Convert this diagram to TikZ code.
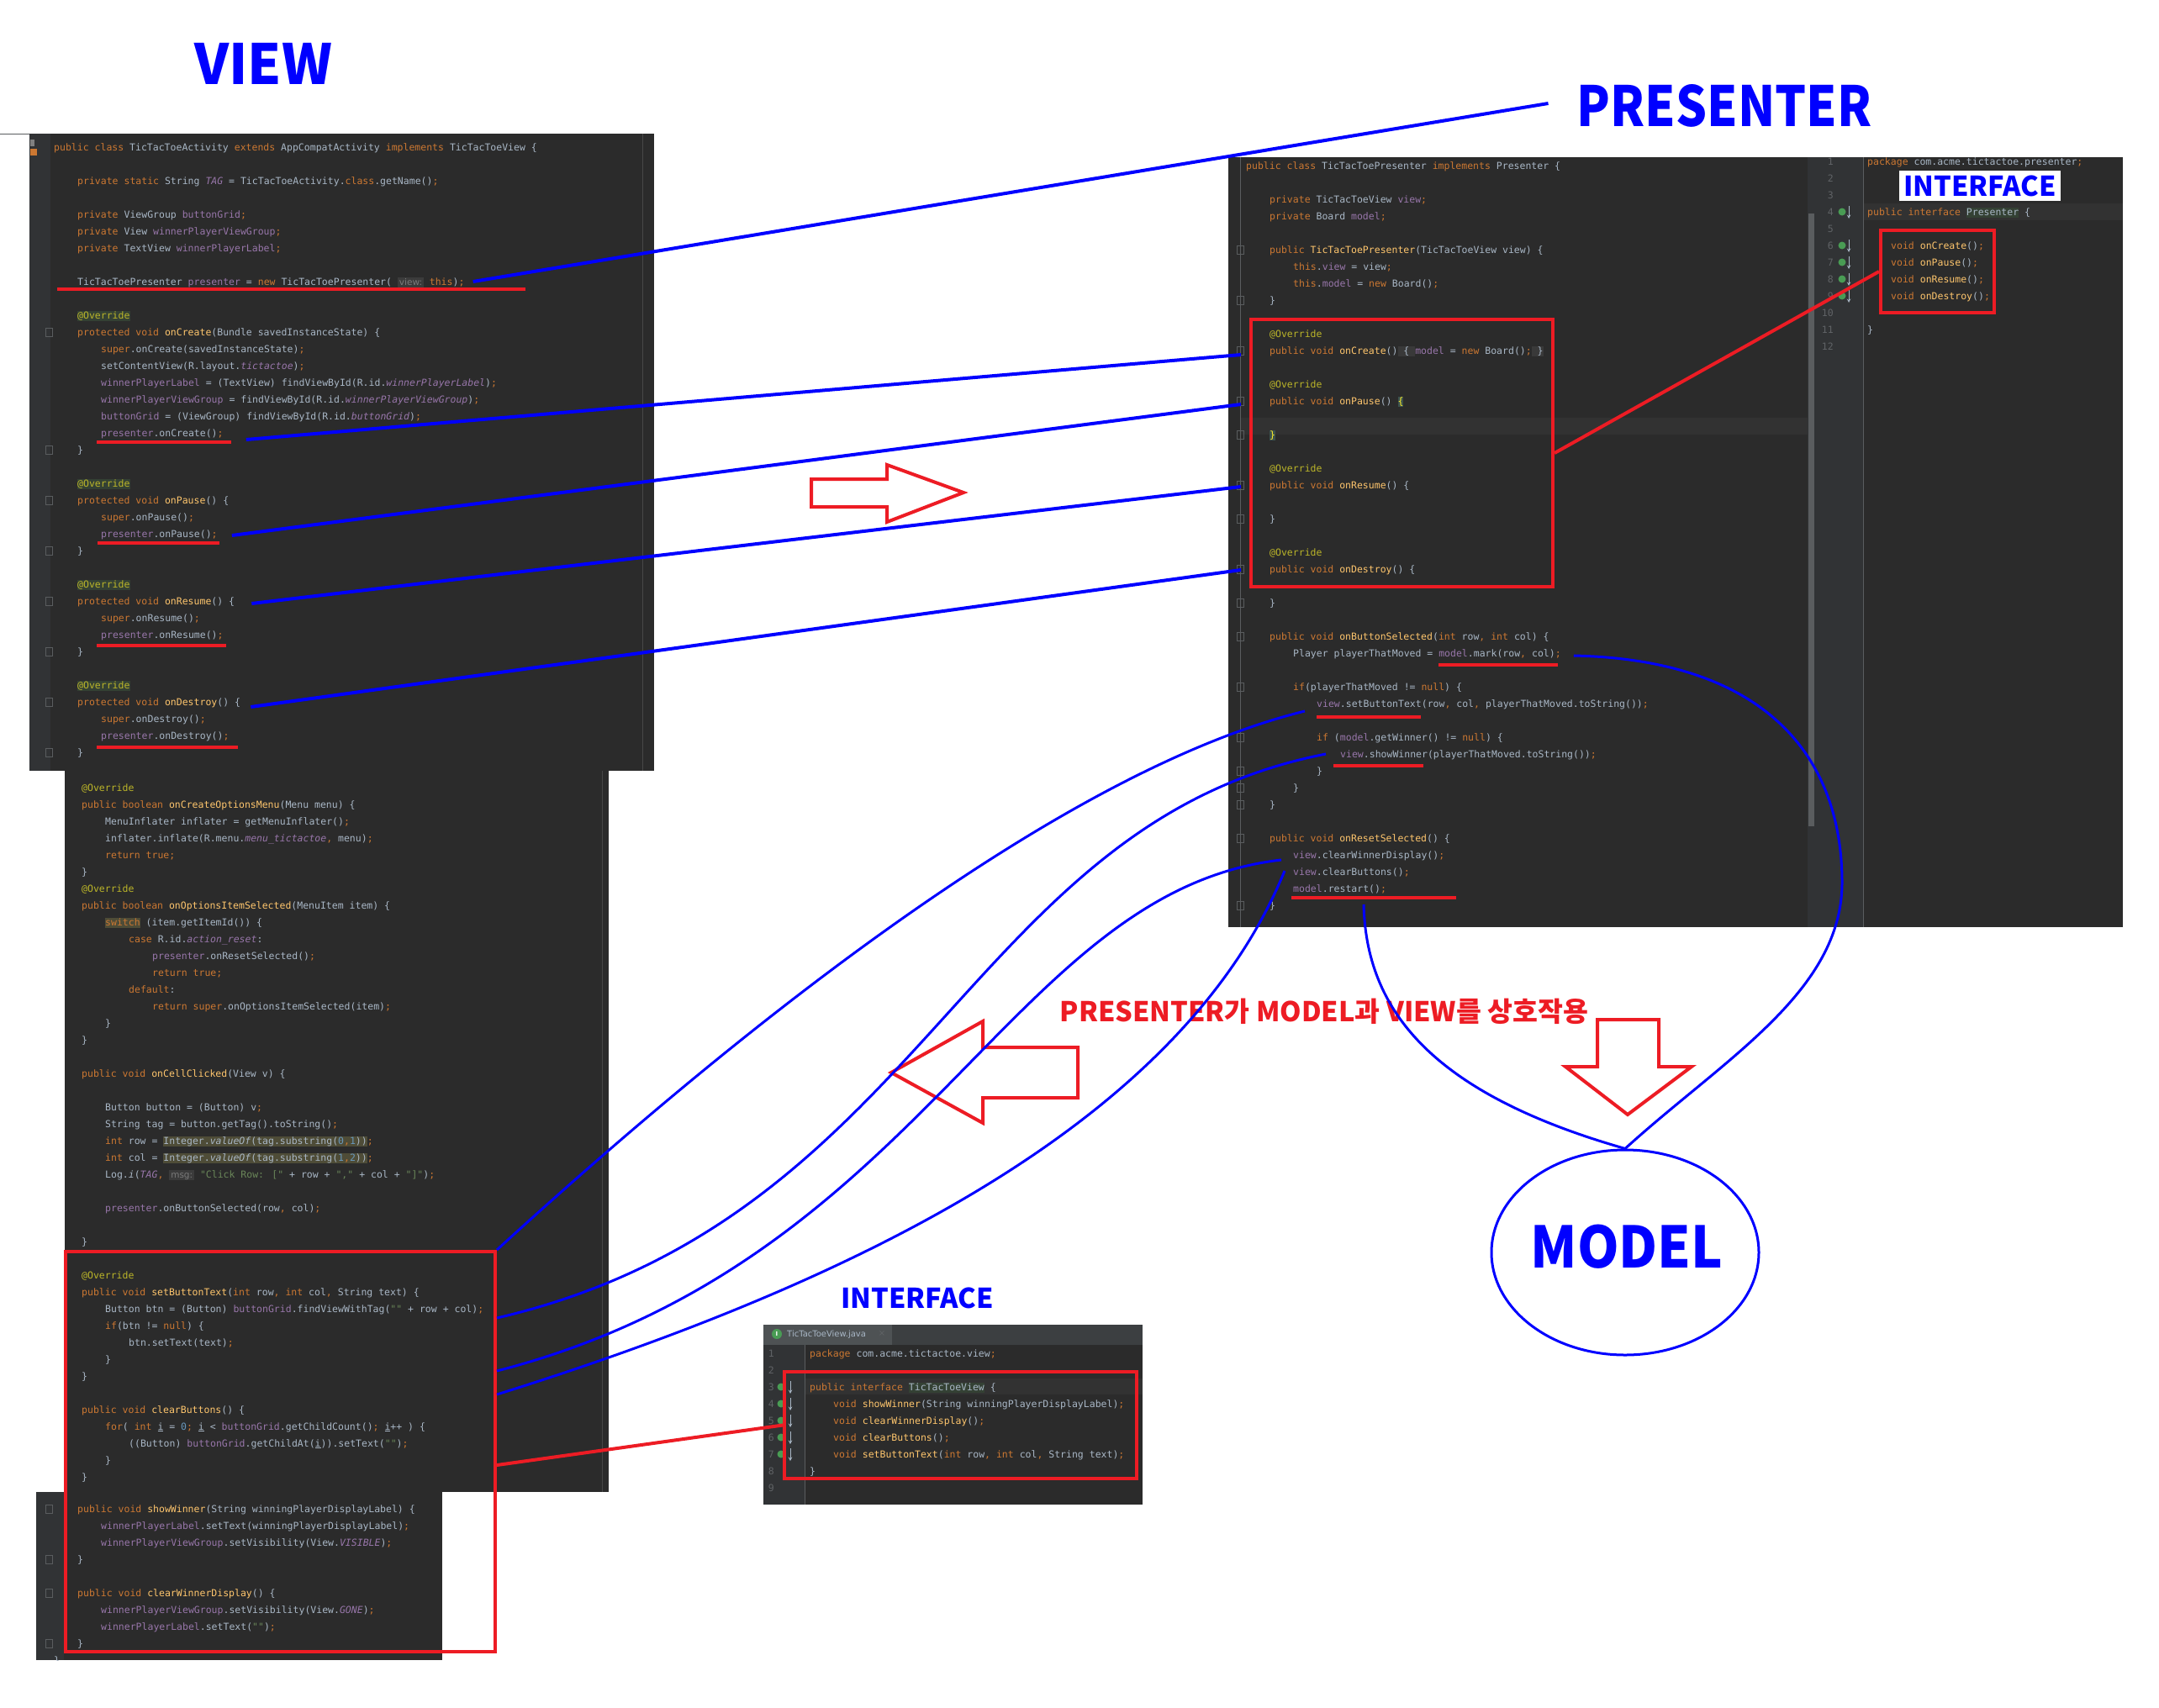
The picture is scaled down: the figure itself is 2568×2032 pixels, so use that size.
\documentclass[tikz,border=0pt]{standalone}
\usepackage{fontspec}
\usepackage{graphicx}
\usetikzlibrary{shapes.geometric}
\newfontfamily\codefont{DejaVu Sans Mono}
\newfontfamily\uifont{DejaVu Sans}
\newfontfamily\krfont{Noto Sans CJK KR}
\definecolor{IdeBg}{HTML}{2B2B2B}
\definecolor{IdeGutter}{HTML}{313335}
\definecolor{IdeText}{HTML}{A9B7C6}
\definecolor{IdeKey}{HTML}{CC7832}
\definecolor{IdeField}{HTML}{9876AA}
\definecolor{IdeMethod}{HTML}{FFC66D}
\definecolor{IdeAnno}{HTML}{BBB529}
\definecolor{IdeStr}{HTML}{6A8759}
\definecolor{IdeNum}{HTML}{6897BB}
\definecolor{IdeLineNo}{HTML}{606366}
\definecolor{IdeHint}{HTML}{7A7A7A}
\definecolor{IdeHintBg}{HTML}{3B3B3B}
\definecolor{IdeFoldBg}{HTML}{393939}
\definecolor{IdeCurLine}{HTML}{323232}
\definecolor{IdeAnnoBg}{HTML}{344134}
\definecolor{IdeUseBg}{HTML}{4E4C37}
\definecolor{IdeBraceBg}{HTML}{3B514D}
\definecolor{IdeBrace}{HTML}{FFEF28}
\definecolor{IdeFold}{HTML}{5A5D5F}
\definecolor{IdeMargin}{HTML}{474747}
\definecolor{IdeIcon}{HTML}{499C54}
\definecolor{IdeTabBar}{HTML}{3C3F41}
\definecolor{IdeTab}{HTML}{4E5254}
\definecolor{MarkRed}{RGB}{237,28,36}
\definecolor{MarkBlue}{RGB}{0,0,255}
\newcommand{\kw}[1]{\textcolor{IdeKey}{#1}}
\newcommand{\fld}[1]{\textcolor{IdeField}{#1}}
\newcommand{\fldi}[1]{\textcolor{IdeField}{\itshape #1}}
\newcommand{\mth}[1]{\textcolor{IdeMethod}{#1}}
\newcommand{\ann}[1]{\textcolor{IdeAnno}{#1}}
\newcommand{\jstr}[1]{\textcolor{IdeStr}{#1}}
\newcommand{\jnum}[1]{\textcolor{IdeNum}{#1}}
\newcommand{\semi}{\kw{;}}
\newcommand{\cma}{\kw{,}}
\newcommand{\dq}{\symbol{34}}
\newcommand{\bgbox}[2]{{\setlength{\fboxsep}{0pt}\colorbox{#1}{\rule[-3pt]{0pt}{12.5pt}#2}}}
\newcommand{\hint}[1]{\bgbox{IdeHintBg}{\,\textcolor{IdeHint}{\uifont\fontsize{10.5}{12}\selectfont #1}\,}}
\newcommand{\annbox}{\bgbox{IdeAnnoBg}{\ann{@Override}}}

\begin{document}
\begin{tikzpicture}[x=1pt,y=-1pt,>=stealth,
    code/.style={anchor=base west,inner sep=0pt,text=IdeText,font=\codefont\fontsize{11.5}{13}\selectfont},
    lineno/.style={anchor=base east,inner sep=0pt,text=IdeLineNo,font=\codefont\fontsize{11.5}{13}\selectfont},
    bigtitle/.style={inner sep=0pt,text=MarkBlue,font=\krfont\bfseries\fontsize{66}{70}\selectfont},
    smalltitle/.style={inner sep=0pt,text=MarkBlue,font=\krfont\bfseries\fontsize{32.5}{36}\selectfont},
    redbox/.style={draw=MarkRed,line width=4pt,inner sep=0pt},
    redmark/.style={draw=MarkRed,line width=4pt},
    bluelink/.style={draw=MarkBlue,line width=4pt},
    bluecurve/.style={draw=MarkBlue,line width=3pt},
    hollow/.style={draw=MarkRed,line width=4pt,line join=miter},
    foldmark/.style={draw=IdeFold,line width=1pt}]

  % page
  \fill[white] (0,0) rectangle (2568,2032);
  \useasboundingbox (0,0) rectangle (2568,2032);

  % editor panels
  \draw[IdeFold,line width=1pt] (0,159) -- (36,159);
  \fill[IdeBg] (35,159) rectangle (778,917);
  \fill[IdeGutter] (35,159) rectangle (60,917);
  \draw[IdeMargin,line width=1pt] (764,159) -- (764,917);
  \fill[IdeBg] (77,917) rectangle (724,1775);
  \draw[IdeMargin,line width=1pt] (716,917) -- (716,1775);
  \fill[IdeBg] (43,1775) rectangle (526,1975);
  \fill[IdeGutter] (43,1775) rectangle (76,1975);
  \fill[gray] (36,166) rectangle (41,174);
  \fill[IdeKey] (36,177) rectangle (44,185);

  \fill[IdeBg] (1461,187) rectangle (2525,1103);
  \draw[IdeFold,line width=1pt] (1475,187) -- (1475,1103);
  \fill[IdeCurLine] (1476,497) rectangle (2150,517);
  \fill[IdeGutter] (2150,187) rectangle (2216,1103);
  \fill[IdeFold] (2151,254) rectangle (2158,983);
  \draw[IdeFold,line width=1pt] (2216,187) -- (2216,1103);
  \fill[IdeCurLine] (2217,242) rectangle (2525,262);

  \fill[IdeBg] (908,1576) rectangle (1359,1790);
  \fill[IdeTabBar] (908,1576) rectangle (1359,1600);
  \fill[IdeTab] (908,1576) rectangle (1061,1600);
  \fill[IdeGutter] (908,1600) rectangle (957,1790);
  \draw[IdeFold,line width=1pt] (957,1600) -- (957,1790);
  \fill[IdeCurLine] (958,1640) rectangle (1359,1659);

  % fold markers
  \foreach \i in {11,18,21,24,27,30,33,36}
    \draw[foldmark] (54,175+20*\i-5) rectangle (62,175+20*\i+5);
  \foreach \i in {5,8,11,14,16,19,21,24,26,28,31,34,36,37,38,40,44}
    \draw[foldmark] (1471,197+20*\i-5) rectangle (1479,197+20*\i+5);
  \foreach \i in {0,3,5,8}
    \draw[foldmark] (54,1795+20*\i-5) rectangle (62,1795+20*\i+5);

  % VIEW code (top)
  \node[code] (v0) at (64,179) {\kw{public class} TicTacToeActivity \kw{extends} AppCompatActivity \kw{implements} TicTacToeView \{};
  \node[code] (v2) at (92,219) {\kw{private static} String \fldi{TAG} = TicTacToeActivity.\kw{class}.getName()\semi};
  \node[code] (v4) at (92,259) {\kw{private} ViewGroup \fld{buttonGrid}\semi};
  \node[code] (v5) at (92,279) {\kw{private} View \fld{winnerPlayerViewGroup}\semi};
  \node[code] (v6) at (92,299) {\kw{private} TextView \fld{winnerPlayerLabel}\semi};
  \node[code] (vpres) at (92,339) {TicTacToePresenter \fld{presenter} = \kw{new} TicTacToePresenter( \hint{view:} \kw{this})\semi};
  \node[code] (v10) at (92,379) {\annbox};
  \node[code] (vcreate) at (92,399) {\kw{protected void} \mth{onCreate}(Bundle savedInstanceState) \{};
  \node[code] (v12) at (120,419) {\kw{super}.onCreate(savedInstanceState)\semi};
  \node[code] (v13) at (120,439) {setContentView(R.layout.\fldi{tictactoe})\semi};
  \node[code] (v14) at (120,459) {\fld{winnerPlayerLabel} = (TextView) findViewById(R.id.\fldi{winnerPlayerLabel})\semi};
  \node[code] (v15) at (120,479) {\fld{winnerPlayerViewGroup} = findViewById(R.id.\fldi{winnerPlayerViewGroup})\semi};
  \node[code] (v16) at (120,499) {\fld{buttonGrid} = (ViewGroup) findViewById(R.id.\fldi{buttonGrid})\semi};
  \node[code] (vcreatecall) at (120,519) {\fld{presenter}.onCreate()\semi};
  \node[code] (v18) at (92,539) {\}};
  \node[code] (v20) at (92,579) {\annbox};
  \node[code] (vpause) at (92,599) {\kw{protected void} \mth{onPause}() \{};
  \node[code] (v22) at (120,619) {\kw{super}.onPause()\semi};
  \node[code] (vpausecall) at (120,639) {\fld{presenter}.onPause()\semi};
  \node[code] (v24) at (92,659) {\}};
  \node[code] (v26) at (92,699) {\annbox};
  \node[code] (vresume) at (92,719) {\kw{protected void} \mth{onResume}() \{};
  \node[code] (v28) at (120,739) {\kw{super}.onResume()\semi};
  \node[code] (vresumecall) at (120,759) {\fld{presenter}.onResume()\semi};
  \node[code] (v30) at (92,779) {\}};
  \node[code] (v32) at (92,819) {\annbox};
  \node[code] (vdestroy) at (92,839) {\kw{protected void} \mth{onDestroy}() \{};
  \node[code] (v34) at (120,859) {\kw{super}.onDestroy()\semi};
  \node[code] (vdestroycall) at (120,879) {\fld{presenter}.onDestroy()\semi};
  \node[code] (v36) at (92,899) {\}};

  % VIEW code (middle)
  \node[code] (w0) at (97,941) {\ann{@Override}};
  \node[code] (w1) at (97,961) {\kw{public boolean} \mth{onCreateOptionsMenu}(Menu menu) \{};
  \node[code] (w2) at (125,981) {MenuInflater inflater = getMenuInflater()\semi};
  \node[code] (w3) at (125,1001) {inflater.inflate(R.menu.\fldi{menu\_tictactoe}\cma{} menu)\semi};
  \node[code] (w4) at (125,1021) {\kw{return true;}};
  \node[code] (w5) at (97,1041) {\}};
  \node[code] (w6) at (97,1061) {\ann{@Override}};
  \node[code] (w7) at (97,1081) {\kw{public boolean} \mth{onOptionsItemSelected}(MenuItem item) \{};
  \node[code] (w8) at (125,1101) {\bgbox{IdeUseBg}{\kw{switch}} (item.getItemId()) \{};
  \node[code] (w9) at (153,1121) {\kw{case} R.id.\fldi{action\_reset}:};
  \node[code] (wreset) at (181,1141) {\fld{presenter}.onResetSelected()\semi};
  \node[code] (w11) at (181,1161) {\kw{return true;}};
  \node[code] (w12) at (153,1181) {\kw{default}:};
  \node[code] (w13) at (181,1201) {\kw{return super}.onOptionsItemSelected(item)\semi};
  \node[code] (w14) at (125,1221) {\}};
  \node[code] (w15) at (97,1241) {\}};
  \node[code] (w17) at (97,1281) {\kw{public void} \mth{onCellClicked}(View v) \{};
  \node[code] (w19) at (125,1321) {Button button = (Button) v\semi};
  \node[code] (w20) at (125,1341) {String tag = button.getTag().toString()\semi};
  \node[code] (w21) at (125,1361) {\kw{int} row = \bgbox{IdeUseBg}{Integer.\textit{valueOf}(tag.substring(\jnum{0}\cma\jnum{1}))}\semi};
  \node[code] (w22) at (125,1381) {\kw{int} col = \bgbox{IdeUseBg}{Integer.\textit{valueOf}(tag.substring(\jnum{1}\cma\jnum{2}))}\semi};
  \node[code] (w23) at (125,1401) {Log.\textit{i}(\fldi{TAG}\cma{} \hint{msg:} \jstr{\dq Click Row: [\dq} + row + \jstr{\dq,\dq} + col + \jstr{\dq]\dq})\semi};
  \node[code] (wbutton) at (125,1441) {\fld{presenter}.onButtonSelected(row\cma{} col)\semi};
  \node[code] (w27) at (97,1481) {\}};
  \node[code] (w29) at (97,1521) {\ann{@Override}};
  \node[code] (wset) at (97,1541) {\kw{public void} \mth{setButtonText}(\kw{int} row\cma{} \kw{int} col\cma{} String text) \{};
  \node[code] (w31) at (125,1561) {Button btn = (Button) \fld{buttonGrid}.findViewWithTag(\jstr{\dq\dq} + row + col)\semi};
  \node[code] (w32) at (125,1581) {\kw{if}(btn != \kw{null}) \{};
  \node[code] (w33) at (153,1601) {btn.setText(text)\semi};
  \node[code] (w34) at (125,1621) {\}};
  \node[code] (w35) at (97,1641) {\}};
  \node[code] (wclear) at (97,1681) {\kw{public void} \mth{clearButtons}() \{};
  \node[code] (w38) at (125,1701) {\kw{for}( \kw{int} \underline{i} = \jnum{0}\semi{} \underline{i} < \fld{buttonGrid}.getChildCount()\semi{} \underline{i}++ ) \{};
  \node[code] (w39) at (153,1721) {((Button) \fld{buttonGrid}.getChildAt(\underline{i})).setText(\jstr{\dq\dq})\semi};
  \node[code] (w40) at (125,1741) {\}};
  \node[code] (w41) at (97,1761) {\}};

  % VIEW code (bottom)
  \begin{scope}
    \clip (43,1775) rectangle (526,1975);
    \node[code] (xshow) at (92,1799) {\kw{public void} \mth{showWinner}(String winningPlayerDisplayLabel) \{};
    \node[code] (x1) at (120,1819) {\fld{winnerPlayerLabel}.setText(winningPlayerDisplayLabel)\semi};
    \node[code] (x2) at (120,1839) {\fld{winnerPlayerViewGroup}.setVisibility(View.\fldi{VISIBLE})\semi};
    \node[code] (x3) at (92,1859) {\}};
    \node[code] (xclear) at (92,1899) {\kw{public void} \mth{clearWinnerDisplay}() \{};
    \node[code] (x6) at (120,1919) {\fld{winnerPlayerViewGroup}.setVisibility(View.\fldi{GONE})\semi};
    \node[code] (x7) at (120,1939) {\fld{winnerPlayerLabel}.setText(\jstr{\dq\dq})\semi};
    \node[code] (x8) at (92,1959) {\}};
    \node[code] (x9) at (64,1979) {\}};
  \end{scope}

  % PRESENTER code
  \node[code] (p0) at (1482,201) {\kw{public class} TicTacToePresenter \kw{implements} Presenter \{};
  \node[code] (p2) at (1510,241) {\kw{private} TicTacToeView \fld{view}\semi};
  \node[code] (p3) at (1510,261) {\kw{private} Board \fld{model}\semi};
  \node[code] (p5) at (1510,301) {\kw{public} \mth{TicTacToePresenter}(TicTacToeView view) \{};
  \node[code] (p6) at (1538,321) {\kw{this}.\fld{view} = view\semi};
  \node[code] (p7) at (1538,341) {\kw{this}.\fld{model} = \kw{new} Board()\semi};
  \node[code] (p8) at (1510,361) {\}};
  \node[code] (p10) at (1510,401) {\ann{@Override}};
  \node[code] (pcreate) at (1510,421) {\kw{public void} \mth{onCreate}()\bgbox{IdeFoldBg}{\ \{\ }\fld{model} = \kw{new} Board()\semi\bgbox{IdeFoldBg}{\ \}}};
  \node[code] (p13) at (1510,461) {\ann{@Override}};
  \node[code] (ppause) at (1510,481) {\kw{public void} \mth{onPause}() \bgbox{IdeBraceBg}{\textcolor{IdeBrace}{\{}}};
  \node[code] (p16) at (1510,521) {\bgbox{IdeBraceBg}{\textcolor{IdeBrace}{\}}}};
  \node[code] (p18) at (1510,561) {\ann{@Override}};
  \node[code] (presume) at (1510,581) {\kw{public void} \mth{onResume}() \{};
  \node[code] (p21) at (1510,621) {\}};
  \node[code] (p23) at (1510,661) {\ann{@Override}};
  \node[code] (pdestroy) at (1510,681) {\kw{public void} \mth{onDestroy}() \{};
  \node[code] (p26) at (1510,721) {\}};
  \node[code] (p28) at (1510,761) {\kw{public void} \mth{onButtonSelected}(\kw{int} row\cma{} \kw{int} col) \{};
  \node[code] (pmark) at (1538,781) {Player playerThatMoved = \fld{model}.mark(row\cma{} col)\semi};
  \node[code] (p31) at (1538,821) {\kw{if}(playerThatMoved != \kw{null}) \{};
  \node[code] (pset) at (1566,841) {\fld{view}.setButtonText(row\cma{} col\cma{} playerThatMoved.toString())\semi};
  \node[code] (p34) at (1566,881) {\kw{if} (\fld{model}.getWinner() != \kw{null}) \{};
  \node[code] (pshow) at (1594,901) {\fld{view}.showWinner(playerThatMoved.toString())\semi};
  \node[code] (p36) at (1566,921) {\}};
  \node[code] (p37) at (1538,941) {\}};
  \node[code] (p38) at (1510,961) {\}};
  \node[code] (p40) at (1510,1001) {\kw{public void} \mth{onResetSelected}() \{};
  \node[code] (pclearwin) at (1538,1021) {\fld{view}.clearWinnerDisplay()\semi};
  \node[code] (pclearbtn) at (1538,1041) {\fld{view}.clearButtons()\semi};
  \node[code] (prestart) at (1538,1061) {\fld{model}.restart()\semi};
  \node[code] (p44) at (1510,1081) {\}};

  % Presenter interface
  \foreach \k in {1,...,12}
    \node[lineno] (pin\k) at (2181,176+20*\k) {\k};
  \foreach \k in {4,6,7,8,9} {
    \fill[IdeIcon] (2191,172+20*\k) circle (4.5);
    \draw[IdeText,line width=1pt,->] (2199,165+20*\k) -- (2199,180+20*\k);
  }
  \node[code] (i1) at (2221,196) {\kw{package} com.acme.tictactoe.presenter\semi};
  \node[code] (i4) at (2221,256) {\kw{public interface} \bgbox{IdeAnnoBg}{Presenter} \{};
  \node[code] (i6) at (2249,296) {\kw{void} \mth{onCreate}()\semi};
  \node[code] (i7) at (2249,316) {\kw{void} \mth{onPause}()\semi};
  \node[code] (i8) at (2249,336) {\kw{void} \mth{onResume}()\semi};
  \node[code] (i9) at (2249,356) {\kw{void} \mth{onDestroy}()\semi};
  \node[code] (i11) at (2221,396) {\}};

  % View interface
  \fill[IdeIcon] (924,1587) circle (6);
  \node[inner sep=0pt,text=white,font=\uifont\bfseries\fontsize{7}{8}\selectfont] (tabicon) at (924,1587) {I};
  \node[anchor=west,inner sep=0pt,text=IdeText,font=\uifont\fontsize{10}{12}\selectfont] (tab) at (936,1588) {TicTacToeView.java};
  \node[inner sep=0pt,text=IdeLineNo,font=\uifont\fontsize{10}{12}\selectfont] (tabclose) at (1049,1586) {×};
  \foreach \k in {1,...,9}
    \node[lineno] (vin\k) at (921,1594+20*\k) {\k};
  \foreach \k in {3,...,7} {
    \fill[IdeIcon] (929,1590+20*\k) circle (4.5);
    \draw[IdeText,line width=1pt,->] (940,1583+20*\k) -- (940,1598+20*\k);
  }
  \node[code] (j1) at (963,1614) {\kw{package} com.acme.tictactoe.view\semi};
  \node[code] (j3) at (963,1654) {\kw{public interface} \bgbox{IdeAnnoBg}{TicTacToeView} \{};
  \node[code] (j4) at (991,1674) {\kw{void} \mth{showWinner}(String winningPlayerDisplayLabel)\semi};
  \node[code] (j5) at (991,1694) {\kw{void} \mth{clearWinnerDisplay}()\semi};
  \node[code] (j6) at (991,1714) {\kw{void} \mth{clearButtons}()\semi};
  \node[code] (j7) at (991,1734) {\kw{void} \mth{setButtonText}(\kw{int} row\cma{} \kw{int} col\cma{} String text)\semi};
  \node[code] (j8) at (963,1754) {\}};

  % titles
  \node[bigtitle] (vtitle) at (313,76) {\scalebox{0.97}[1]{VIEW}};
  \node[bigtitle] (ptitle) at (2051,126) {\scalebox{0.88}[1]{PRESENTER}};
  \node[fill=white,inner xsep=5pt,inner ysep=5pt,text=MarkBlue,font=\krfont\bfseries\fontsize{32.5}{36}\selectfont] (ititle) at (2355,221) {INTERFACE};
  \node[smalltitle] (vititle) at (1091,1544) {INTERFACE};
  \node[inner sep=0pt,text=MarkRed,font=\krfont\bfseries\fontsize{32.5}{36}\selectfont] (note) at (1575,1203) {PRESENTER가 MODEL과 VIEW를 상호작용};
  \node[ellipse,draw=MarkBlue,line width=3pt,inner sep=0pt,minimum width=318,minimum height=244] (model) at (1933,1490) {};
  \node[bigtitle,font=\krfont\bfseries\fontsize{68}{70}\selectfont] (modeltext) at (1935,1483) {\scalebox{0.93}[1]{MODEL}};

  % red boxes
  \node[redbox,minimum width=511,minimum height=476] (vbox) at (333.5,1727) {};
  \node[redbox,minimum width=359,minimum height=318] (pbox) at (1667.5,539) {};
  \node[redbox,minimum width=135,minimum height=98] (ibox) at (2304.5,323) {};
  \node[redbox,minimum width=419,minimum height=127] (vibox) at (1142.5,1695.5) {};

  % red underlines
  \draw[redmark] ([xshift=-24pt,yshift=-5pt]vpres.base west) -- ([xshift=72pt,yshift=-5pt]vpres.base east);
  \draw[redmark] ([xshift=-5pt,yshift=-7pt]vcreatecall.base west) -- ([xshift=9pt,yshift=-7pt]vcreatecall.base east);
  \draw[redmark] ([xshift=-4pt,yshift=-7pt]vpausecall.base west) -- ([xshift=2pt,yshift=-7pt]vpausecall.base east);
  \draw[redmark] ([xshift=-5pt,yshift=-9pt]vresumecall.base west) -- ([xshift=3pt,yshift=-9pt]vresumecall.base east);
  \draw[redmark] ([xshift=-5pt,yshift=-10pt]vdestroycall.base west) -- ([xshift=10pt,yshift=-10pt]vdestroycall.base east);
  \draw[redmark] ([xshift=-146pt,yshift=-10pt]pmark.base east) -- ([xshift=-4pt,yshift=-10pt]pmark.base east);
  \draw[redmark] ([yshift=-12pt]pset.base west) -- ([xshift=124pt,yshift=-12pt]pset.base west);
  \draw[redmark] ([xshift=-8pt,yshift=-10pt]pshow.base west) -- ([xshift=99pt,yshift=-10pt]pshow.base west);
  \draw[redmark] ([xshift=-2pt,yshift=-7pt]prestart.base west) -- ([xshift=194pt,yshift=-7pt]prestart.base west);

  % red links
  \draw[redmark] (pbox.east) -- (ibox.west);
  \draw[redmark] ([yshift=-16pt]vbox.east) -- (vibox.west);

  % hollow arrows
  \draw[hollow] (965,570) -- (1055,570) -- (1055,553) -- (1146,586) -- (1055,621) -- (1055,603) -- (965,603) -- cycle;
  \draw[hollow] (1282,1246) -- (1169,1246) -- (1169,1215) -- (1060,1276) -- (1169,1336) -- (1169,1306) -- (1282,1306) -- cycle;
  \draw[hollow] (1900,1213) -- (1973,1213) -- (1973,1269) -- (2012,1269) -- (1936,1326) -- (1862,1269) -- (1900,1269) -- cycle;

  % view -> presenter
  \draw[bluelink] ([xshift=10pt,yshift=4pt]vpres.base east) -- ([xshift=-34pt,yshift=3pt]ptitle.west);
  \draw[bluelink] ([xshift=27pt,yshift=-4pt]vcreatecall.base east) -- ([xshift=-34pt,yshift=-1pt]pcreate.base west);
  \draw[bluelink] ([xshift=17pt,yshift=2pt]vpausecall.base east) -- ([xshift=-34pt]ppause.base west);
  \draw[bluelink] ([xshift=20pt,yshift=1pt]vresume.base east) -- ([xshift=-34pt,yshift=2pt]presume.base west);
  \draw[bluelink] ([xshift=12pt,yshift=-2pt]vdestroy.base east) -- ([xshift=-34pt,yshift=3pt]pdestroy.base west);

  % presenter -> view
  \draw[bluecurve] ([xshift=-14pt,yshift=-5pt]pset.base west) .. controls (1250,920) and (850,1250) .. (vbox.north east);
  \draw[bluecurve] ([xshift=-17pt,yshift=4pt]pshow.base west) .. controls (1150,980) and (1100,1450) .. ([yshift=159pt]vbox.east);
  \draw[bluecurve] ([xshift=-14pt,yshift=-2pt]pclearwin.base west) .. controls (1200,1060) and (1100,1500) .. ([yshift=96pt]vbox.east);
  \draw[bluecurve] ([xshift=-10pt,yshift=5pt]pclearbtn.base west) .. controls (1420,1300) and (1100,1500) .. ([yshift=68pt]vbox.east);

  % presenter -> model
  \draw[bluecurve] ([xshift=15pt,yshift=1pt]pmark.base east) .. controls (2100,785) and (2191,900) .. (2191,1050) .. controls (2191,1180) and (2050,1260) .. (model.north);
  \draw[bluecurve] ([xshift=84pt,yshift=-15pt]prestart.base west) .. controls (1625,1200) and (1700,1300) .. (model.north);
\end{tikzpicture}
\end{document}
